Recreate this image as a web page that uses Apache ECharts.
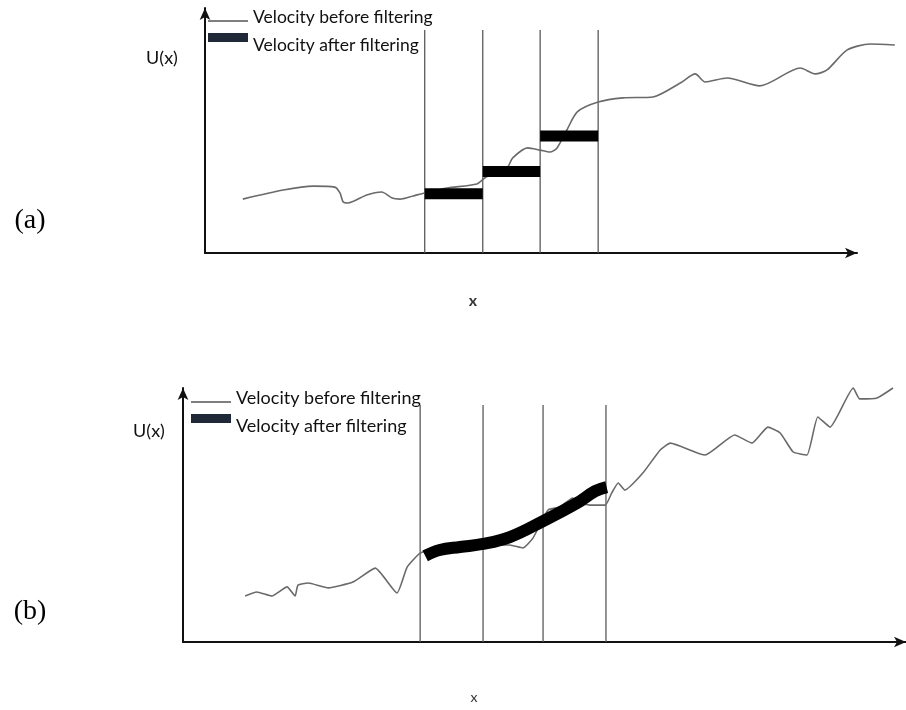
<!DOCTYPE html>
<html>
<head>
<meta charset="utf-8">
<title>Velocity filtering</title>
<script src="https://cdn.jsdelivr.net/npm/echarts@6/dist/echarts.min.js"></script>
<style>
  html, body { margin: 0; padding: 0; background: #fff; }
  #chart { width: 906px; height: 710px; }
</style>
</head>
<body>
<div id="chart"></div>
<script>
// ---- Panel (a): box filter, one constant value per cell ----
const cellEdgesA = [33.7, 42.6, 51.4, 60.3];
const filteredA = [24.2, 33.3, 47.8];
const rawXA = [5.8, 12.0, 16.6, 19.9, 20.7, 21.2, 21.9, 24.8, 27.1, 28.7, 29.9, 31.9, 33.7, 37.1, 41.7, 42.9, 43.7, 46.3, 47.2, 49.5, 51.4, 52.9, 54.0, 55.5, 57.1, 60.3, 64.1, 68.7, 72.9, 75.2, 76.7, 80.1, 85.1, 91.3, 93.6, 95.4, 98.5, 102.0, 105.8];
const rawUA = [22.0, 25.7, 27.3, 26.9, 24.5, 20.8, 20.4, 23.7, 24.9, 22.4, 22.0, 23.3, 24.5, 26.5, 28.2, 30.6, 31.8, 34.7, 38.8, 42.9, 42.0, 41.2, 42.9, 50.2, 57.6, 61.6, 63.3, 63.7, 69.4, 73.1, 69.8, 71.4, 68.2, 75.5, 73.1, 74.7, 82.9, 85.3, 84.9];

// ---- Panel (b): smooth filter across the cells ----
const cellEdgesB = [32.8, 41.5, 49.8, 58.5];
const rawXB = [8.6, 10.2, 12.3, 14.4, 15.5, 15.9, 17.3, 20.1, 23.5, 26.6, 29.6, 31.0, 32.8, 35.5, 41.5, 45.2, 47.0, 48.4, 50.5, 52.1, 53.9, 54.6, 56.3, 58.4, 59.3, 60.2, 61.1, 63.6, 66.0, 67.4, 72.2, 76.3, 78.7, 80.9, 82.6, 84.4, 86.3, 87.8, 89.5, 92.7, 93.6, 96.0, 98.2];
const rawUB = [18.1, 19.7, 18.1, 21.7, 18.1, 22.4, 23.2, 21.3, 23.6, 29.1, 19.3, 29.5, 35.0, 36.6, 38.2, 38.2, 37.0, 40.9, 52.0, 53.1, 56.7, 54.7, 53.9, 53.9, 58.7, 62.6, 59.8, 66.5, 75.6, 78.3, 73.6, 81.5, 78.3, 84.6, 82.3, 74.8, 73.6, 88.6, 84.6, 100.0, 95.7, 96.1, 100.0];
const filtXB = [33.5, 35.5, 38.3, 41.5, 45.2, 49.8, 54.5, 57.0, 58.6];
const filtUB = [33.9, 36.2, 37.4, 38.6, 41.3, 47.6, 54.7, 59.4, 61.0];

const legendLabels = ['Velocity before filtering', 'Velocity after filtering'];
const panelLabels = ['(a)', '(b)'];
const edgeTopA = 91.0;
const edgeTopB = 93.3;

const zip = (xs, ys) => xs.map((x, i) => [x, ys[i]]);

// panel (a) plot area; the raw signal runs on past the arrow of the x axis,
// so it gets its own wider grid with the same scale
const gridA = { left: 205, top: 8, width: 652, height: 245 };
const gridA2 = { left: 205, top: 8, width: 690, height: 245 };
const gridB = { left: 183, top: 388, width: 723, height: 254 };
const maxA2 = 100 * gridA2.width / gridA.width;

const axisLine = {
  show: true,
  symbol: ['none', 'arrow'],
  symbolSize: [8, 12],
  lineStyle: { color: '#111', width: 2 }
};
function makeAxis(gridIndex, max, visible) {
  return {
    type: 'value', gridIndex: gridIndex, min: 0, max: max, show: visible,
    axisLine: axisLine, axisTick: { show: false },
    axisLabel: { show: false }, splitLine: { show: false }
  };
}

const series = [];
function edgeSeries(edges, top, idx) {
  edges.forEach(x => series.push({
    type: 'line', xAxisIndex: idx, yAxisIndex: idx, symbol: 'none', silent: true,
    data: [[x, 0], [x, top]],
    lineStyle: { color: '#5a5a5a', width: 1.3 }, z: 1
  }));
}
edgeSeries(cellEdgesA, edgeTopA, 0);
edgeSeries(cellEdgesB, edgeTopB, 1);

series.push({
  type: 'line', xAxisIndex: 2, yAxisIndex: 2, symbol: 'none', clip: false,
  smooth: 0.25, data: zip(rawXA, rawUA),
  lineStyle: { color: '#6a6a6a', width: 1.6 }, z: 2
});
filteredA.forEach((u, i) => series.push({
  type: 'line', xAxisIndex: 0, yAxisIndex: 0, symbol: 'none',
  data: [[cellEdgesA[i], u], [cellEdgesA[i + 1], u]],
  lineStyle: { color: '#000', width: 11, cap: 'butt' }, z: 3
}));

series.push({
  type: 'line', xAxisIndex: 1, yAxisIndex: 1, symbol: 'none', clip: false,
  smooth: 0.15, data: zip(rawXB, rawUB),
  lineStyle: { color: '#6a6a6a', width: 1.6 }, z: 2
});
series.push({
  type: 'line', xAxisIndex: 1, yAxisIndex: 1, symbol: 'none',
  smooth: 0.4, data: zip(filtXB, filtUB),
  lineStyle: { color: '#000', width: 12, cap: 'butt' }, z: 3
});

function legendGroup(x, y, size) {
  const font = size + 'px Lato, sans-serif';
  return [
    { type: 'line', shape: { x1: x, y1: y, x2: x + 40, y2: y }, style: { stroke: '#000', lineWidth: 1.2 } },
    { type: 'rect', shape: { x: x, y: y + 12, width: 40, height: 9 }, style: { fill: '#1f2836' } },
    { type: 'text', x: x + 45, y: y - 4, style: { text: legendLabels[0], font: font, fill: '#111', textVerticalAlign: 'middle' } },
    { type: 'text', x: x + 45, y: y + 24, style: { text: legendLabels[1], font: font, fill: '#111', textVerticalAlign: 'middle' } }
  ];
}

const graphic = [].concat(
  legendGroup(208, 21, 17.5),
  legendGroup(191, 402, 18),
  [
    { type: 'text', x: 162, y: 58, style: { text: 'U(x)', font: '18px Lato, sans-serif', fill: '#111', textAlign: 'center', textVerticalAlign: 'middle' } },
    { type: 'text', x: 149, y: 431, style: { text: 'U(x)', font: '18px Lato, sans-serif', fill: '#111', textAlign: 'center', textVerticalAlign: 'middle' } },
    { type: 'text', x: 473, y: 301, style: { text: 'x', font: 'bold 16px Lato, sans-serif', fill: '#333', textAlign: 'center', textVerticalAlign: 'middle' } },
    { type: 'text', x: 474, y: 697, style: { text: 'x', font: '14px Lato, sans-serif', fill: '#333', textAlign: 'center', textVerticalAlign: 'middle' } },
    { type: 'text', x: 30, y: 221, style: { text: panelLabels[0], font: '28px "Liberation Serif", serif', fill: '#000', textAlign: 'center', textVerticalAlign: 'middle' } },
    { type: 'text', x: 30, y: 612, style: { text: panelLabels[1], font: '28px "Liberation Serif", serif', fill: '#000', textAlign: 'center', textVerticalAlign: 'middle' } }
  ]
);

const chart = echarts.init(document.getElementById('chart'), null, { renderer: 'canvas' });
chart.setOption({
  backgroundColor: '#fff',
  animation: false,
  grid: [gridA, gridB, gridA2],
  xAxis: [makeAxis(0, 100, true), makeAxis(1, 100, true), makeAxis(2, maxA2, false)],
  yAxis: [makeAxis(0, 100, true), makeAxis(1, 100, true), makeAxis(2, 100, false)],
  series: series,
  graphic: graphic
});
</script>
</body>
</html>
